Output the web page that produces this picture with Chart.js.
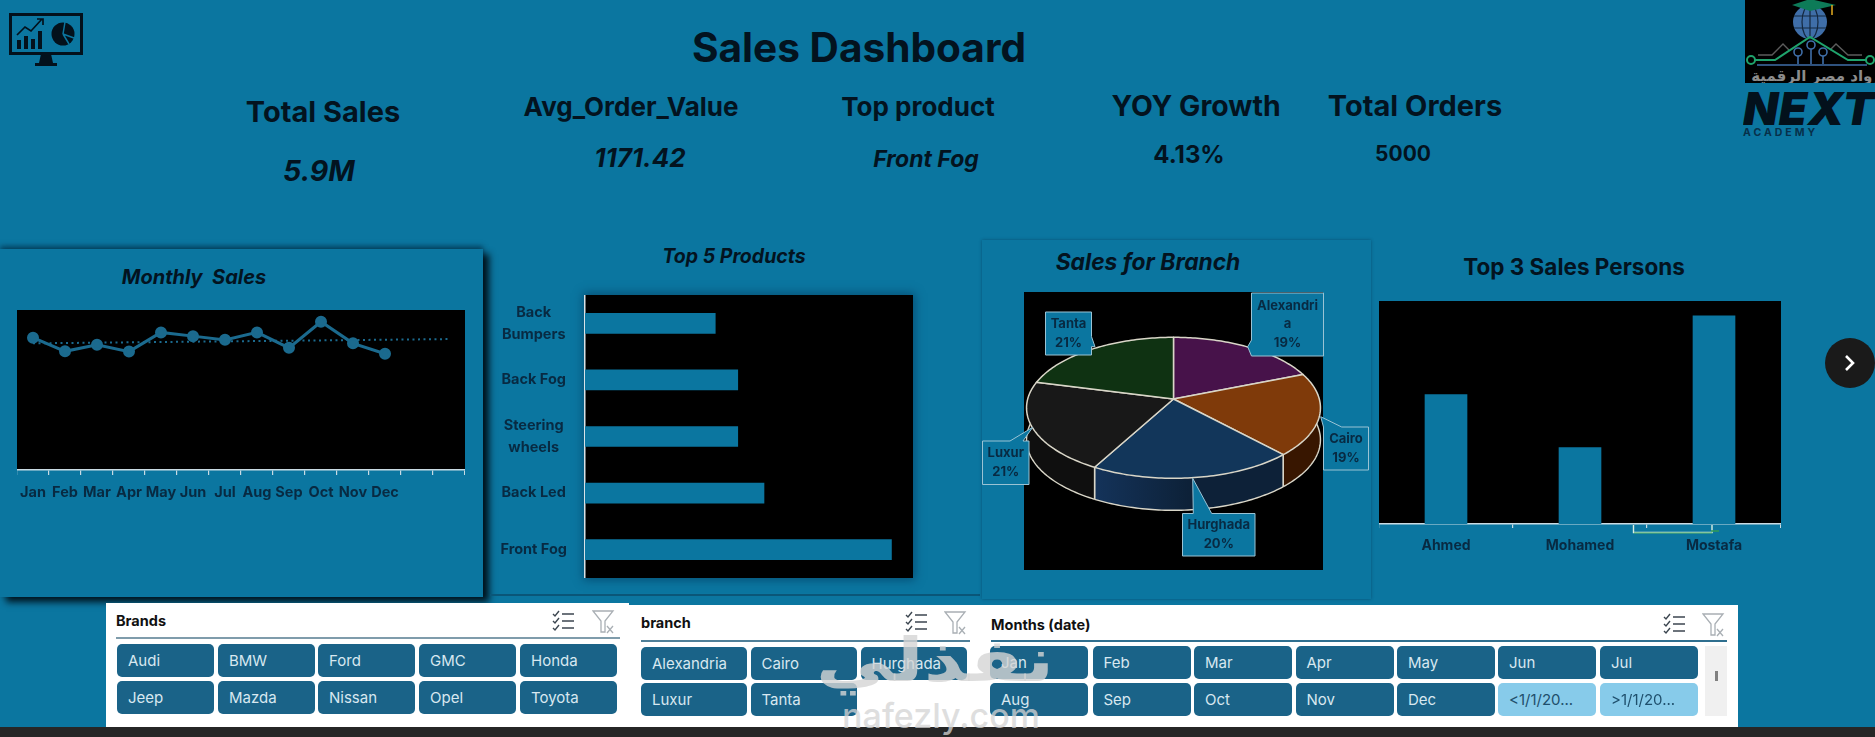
<!DOCTYPE html>
<html><head><meta charset="utf-8">
<script src="https://cdn.jsdelivr.net/npm/chart.js@4/dist/chart.umd.min.js"></script>
<style>
html,body{margin:0;padding:0;width:1875px;height:737px;overflow:hidden;background:#0b76a0;font-family:Inter,Roboto,sans-serif;color:#03131f}
.abs,canvas{position:absolute}
.t{position:absolute;white-space:nowrap;transform:translate(-50%,-50%);font-weight:700;line-height:1}
.panel{position:absolute;background:#0b76a0}
.slicer{position:absolute;background:#fff}
.slicer .hd{position:absolute;font-size:14.5px;font-weight:700;color:#111;white-space:nowrap;line-height:1;transform:translateY(-50%)}
.slicer .rule{position:absolute;height:2px}
.btn{position:absolute;background:#1a6388;color:#d8e8f0;border-radius:5px;font-size:15px;line-height:33px;box-sizing:border-box;padding-left:11px;white-space:nowrap;overflow:hidden}
.btn.off{background:#87cbea;color:#1f4f6c}
#mark1{position:absolute;left:935px;top:660px;transform:translate(-50%,-50%) scaleX(1.3);font:700 60px "DejaVu Sans";color:rgba(212,212,212,.8);white-space:nowrap;line-height:1}
#mark2{position:absolute;left:941px;top:716px;transform:translate(-50%,-50%);font:500 34px Inter;color:rgba(212,212,212,.75);white-space:nowrap;line-height:1}
</style></head><body>
<div class="panel" style="left:0;top:249px;width:483px;height:348px;box-shadow:6px 5px 7px #01131d,0 -3px 5px rgba(0,30,50,.55)"></div>
<div class="abs" style="left:490px;top:594px;width:490px;height:2px;background:#0a5678"></div>
<div class="abs" style="left:982px;top:240px;width:389px;height:359px;box-shadow:0 0 3px rgba(0,40,65,.45);background:#0b76a0"></div>
<div class="abs" style="left:585px;top:295px;width:328px;height:283px;box-shadow:0 0 9px 2px rgba(3,60,95,.65)"></div>
<div class="abs" style="left:1024px;top:292px;width:299px;height:278px;background:#000"></div>

<div class="t" style="left:859px;top:48px;font-size:40.6px">Sales Dashboard</div>
<div class="t" style="left:323px;top:111px;font-size:29px">Total Sales</div>
<div class="t" style="left:319px;top:171px;font-size:28.5px;font-style:italic">5.9M</div>
<div class="t" style="left:631px;top:107px;font-size:26px">Avg_Order_Value</div>
<div class="t" style="left:640px;top:158px;font-size:26px;font-style:italic">1171.42</div>
<div class="t" style="left:918px;top:107px;font-size:26px">Top product</div>
<div class="t" style="left:926px;top:159px;font-size:23px;font-style:italic">Front Fog</div>
<div class="t" style="left:1196px;top:106px;font-size:28.4px">YOY Growth</div>
<div class="t" style="left:1189px;top:155px;font-size:24px">4.13%</div>
<div class="t" style="left:1415px;top:105px;font-size:29px">Total Orders</div>
<div class="t" style="left:1403px;top:153px;font-size:21px">5000</div>
<div class="t" style="left:194px;top:277px;font-size:20px;font-style:italic">Monthly&nbsp; Sales</div>
<div class="t" style="left:734px;top:257px;font-size:19.5px;font-style:italic">Top 5 Products</div>
<div class="t" style="left:1148px;top:262px;font-size:22.8px;font-style:italic">Sales for Branch</div>
<div class="t" style="left:1574px;top:267px;font-size:22.5px">Top 3 Sales Persons</div>

<svg class="abs" style="left:9px;top:12px" width="76" height="56" viewBox="0 0 76 56">
 <rect x="1.5" y="2.5" width="71" height="39" fill="none" stroke="#03111c" stroke-width="3"/>
 <path d="M32 42h10l2 9h4v3H26v-3h4z" fill="#03111c"/>
 <g fill="#03111c"><rect x="8" y="28" width="4" height="9"/><rect x="15" y="24" width="4" height="13"/><rect x="22" y="27" width="4" height="10"/><rect x="29" y="19" width="4" height="18"/></g>
 <path d="M8 23l8-8 6 4 11-12M28 7h6v6" fill="none" stroke="#03111c" stroke-width="1.7"/>
 <circle cx="54" cy="22" r="11.5" fill="#03111c"/>
 <path d="M54 22l2-12M54 22l11 4M54 22l6 10" stroke="#0b76a0" stroke-width="1.5"/>
</svg>

<svg class="abs" style="left:1745px;top:0" width="130" height="83" viewBox="0 0 130 83">
 <rect width="130" height="83" fill="#000"/>
 <circle cx="65" cy="22" r="17" fill="#3f6ea8"/>
 <g stroke="#14283f" stroke-width="1.2" fill="none"><ellipse cx="65" cy="22" rx="8" ry="17"/><path d="M65 5v34M49 16h32M49 28h32"/></g>
 <path d="M47 5L65 -1L91 5L65 11z" fill="#0d7b58"/><path d="M87 5v10" stroke="#d8a21f" stroke-width="1.6"/>
 <path d="M13 55h14l11-11 6 6M117 55h-14l-12-11-6 6" fill="none" stroke="#5c5c5c" stroke-width="1.4"/>
 <path d="M10 60h20l35-23 38 23h18" fill="none" stroke="#1fa36c" stroke-width="2"/>
 <circle cx="6" cy="60" r="4" fill="none" stroke="#1fa36c" stroke-width="2"/><circle cx="125" cy="60" r="4" fill="none" stroke="#1fa36c" stroke-width="2"/>
 <path d="M12 65h110" stroke="#3f6ea8" stroke-width="1.5"/>
 <g fill="none" stroke="#3f6ea8" stroke-width="1.6"><circle cx="53" cy="52" r="4"/><circle cx="66" cy="45" r="4"/><circle cx="78" cy="52" r="4"/><path d="M53 56v8M66 49v15M78 56v8"/></g>
 <text x="136" y="81" text-anchor="end" font-family="DejaVu Sans" font-weight="700" font-size="15" fill="#8c8c8c">رواد مصر الرقمية</text>
</svg>
<div class="abs" style="left:1743px;top:86px;width:132px;overflow:hidden;font:italic 900 46px/44px Inter;letter-spacing:.4px;color:#03111c">NEXT</div>
<div class="abs" style="left:1743px;top:128px;font:700 10.5px/10px Inter;letter-spacing:3px;color:#07304a">ACADEMY</div>

<canvas id="lineChart" width="448" height="200" style="left:17px;top:310px"></canvas>
<canvas id="barChart" width="423" height="283" style="left:490px;top:295px"></canvas>
<canvas id="pieChart" width="400" height="290" style="left:975px;top:285px"></canvas>
<canvas id="colChart" width="402" height="255" style="left:1379px;top:301px"></canvas>

<svg class="abs" style="left:1630px;top:524px" width="90" height="12">
 <path d="M3.5 1v7.5H82V1" fill="none" stroke="#d8efe2" stroke-width="1.4"/><path d="M4 9h78" stroke="#2f9a5a" stroke-width="1"/><path d="M81 7h8" stroke="#2f9a5a" stroke-width="1.6"/>
</svg>

<svg class="abs" style="left:1825px;top:338px" width="50" height="50"><circle cx="25" cy="25" r="25" fill="#1a1a1a"/><path d="M21 18l7 7-7 7" fill="none" stroke="#fff" stroke-width="2.6"/></svg>

<div class="abs" style="left:0;top:727px;width:1875px;height:10px;background:#262626"></div>
<div id="slicers"></div>
<div id="mark1">نفذلي</div>
<div id="mark2">nafezly.com</div>

<script>
// ----- data -----
const monthLabels = ['Jan','Feb','Mar','Apr','May','Jun','Jul','Aug','Sep','Oct','Nov','Dec','',''];
const monthlySales = [496000,445000,470000,444000,516000,502000,488000,516000,458000,556000,475000,436000,null,null];
const monthlyTrend = [475000,null,null,null,null,null,null,null,null,null,null,null,null,491000];
const productLabels = [['Back','Bumpers'],'Back Fog',['Steering','wheels'],'Back Led','Front Fog'];
const productValues = [139,163,163,191,327];
const branchLabels = ['Alexandria','Cairo','Hurghada','Luxur','Tanta'];
const branchShares = [19,19,20,21,21];
const personLabels = ['Ahmed','Mohamed','Mostafa'];
const personValues = [870000,514000,1400000];
const brandButtons = ['Audi','BMW','Ford','GMC','Honda','Jeep','Mazda','Nissan','Opel','Toyota'];
const branchButtons = ['Alexandria','Cairo','Hurghada','Luxur','Tanta'];
const monthButtons = ['Jan','Feb','Mar','Apr','May','Jun','Jul','Aug','Sep','Oct','Nov','Dec','<1/1/20...','>1/1/20...'];

// ----- styling -----
const BAR='#0b76a0', LINE='#1b6a8e', INK='#082a42', AXIS='#c9dbe3';
const sliceTop=['#47124a','#7f3a0a','#12365a','#181818','#0f3212'];
const sliceWall=['#2a0a2c','#381600','#0d2138','#0f0f0f','#081c0a'];
const tiltView={k:.125,bx:145.8,ay:69.4,depth:32,edge:'#d9d6c8'};
const calloutBoxes=[
 {x0:1251.5,y0:293,x1:1323.5,y1:356,left:[[1251.5,356],[1247.7,346.7],[1251.5,340]]},
 {x0:1323.5,y0:427,x1:1368.5,y1:470,top:[[1323.5,427],[1320.7,416.7],[1341.7,427]]},
 {x0:1182.5,y0:513.5,x1:1255,y1:556,top:[[1193.3,513.5],[1192.7,478.3],[1211.7,513.5]]},
 {x0:982.5,y0:441,x1:1029,y1:484.5,top:[[1010,441],[1032.7,427.3],[1023,441]]},
 {x0:1045.5,y0:312,x1:1091.5,y1:355,right:[[1091.5,336.7],[1095,346.7],[1091.5,346.7]]}
];
const PIE_ORIGIN={x:975,y:285};

Chart.defaults.animation=false;
Chart.defaults.devicePixelRatio=1;
Chart.defaults.responsive=false;
Chart.defaults.plugins.legend.display=false;
Chart.defaults.plugins.tooltip.enabled=false;
Chart.defaults.font.family='Inter, Roboto, sans-serif';

const plotFill={id:'plotFill',beforeDraw(c){const a=c.chartArea,x=c.ctx;x.save();x.fillStyle='#000';x.fillRect(a.left,a.top,a.width,a.height);x.restore();}};
const noPad=s=>{s.paddingLeft=s.paddingRight=s.paddingTop=s.paddingBottom=0;};
const baseAxis=(extra)=>Object.assign({
  border:{color:AXIS,width:1.5},
  grid:{display:true,drawOnChartArea:false,color:AXIS,lineWidth:1.2,tickLength:5,offset:true},
  ticks:{color:INK,font:{size:14.5,weight:'700'},autoSkip:false,maxRotation:0,minRotation:0,padding:9}
},extra);

new Chart('lineChart',{type:'line',plugins:[plotFill],
 data:{labels:monthLabels,datasets:[
  {data:monthlyTrend,borderColor:LINE,borderWidth:2,borderDash:[2,3.5],pointRadius:0,spanGaps:true,order:2},
  {data:monthlySales,borderColor:LINE,backgroundColor:LINE,borderWidth:3,pointRadius:4.5,tension:0,order:1}]},
 options:{layout:{padding:0,autoPadding:false},scales:{
  x:baseAxis({offset:true,afterFit(s){s.height=40;noPad(s)}}),
  y:{display:false,min:0,max:600000}}}});

new Chart('barChart',{type:'bar',plugins:[plotFill],
 data:{labels:productLabels,datasets:[{data:productValues,backgroundColor:BAR,barThickness:20}]},
 options:{indexAxis:'y',scales:{
  x:{display:false,min:0,max:350},
  y:{afterFit(s){s.width=95;noPad(s)},border:{color:'#d7e3e8',width:1.5},grid:{display:false},
     ticks:{color:INK,crossAlign:'center',padding:10,font:{size:14.5,weight:'700',lineHeight:1.5},autoSkip:false}}}}});

new Chart('colChart',{type:'bar',plugins:[plotFill],
 data:{labels:personLabels,datasets:[{data:personValues,backgroundColor:BAR,barThickness:42}]},
 options:{scales:{
  x:baseAxis({afterFit(s){s.height=32;noPad(s)},grid:{display:true,drawOnChartArea:false,color:AXIS,lineWidth:1.2,tickLength:4},ticks:{color:INK,font:{size:14,weight:'700'},padding:9}}),
  y:{display:false,min:0,max:1500000}}}});

// Arcs keep the library's angles; the plugin projects them as a tilted disc with a rim.
const tiltedPie={id:'tiltedPie',
 beforeDatasetDraw(c){
  const x=c.ctx,V=tiltView,arcs=c.getDatasetMeta(0).data;
  const pt=(el,a,d=0)=>{const u=Math.cos(a),v=Math.sin(a),w=1-V.k*v;return [el.x+V.bx*u/w,el.y+V.ay*v/w+d];};
  const rim=(el,d,rev,move)=>{const n=64;for(let i=0;i<=n;i++){const t=rev?n-i:i;const a=el.startAngle+(el.endAngle-el.startAngle)*t/n;const p=pt(el,a,d);(i===0&&move)?x.moveTo(p[0],p[1]):x.lineTo(p[0],p[1]);}};
  x.save();x.lineJoin='round';
  arcs.forEach((el,i)=>{
    x.beginPath();rim(el,0,false,true);rim(el,V.depth,true,false);x.closePath();
    const pa=pt(el,el.startAngle),pb=pt(el,el.endAngle);
    const g=x.createLinearGradient(Math.min(pa[0],pb[0]),0,Math.max(pa[0],pb[0]),0);
    g.addColorStop(0,i===2?'#14335a':sliceWall[i]);g.addColorStop(.5,sliceWall[i]);
    g.addColorStop(1,sliceWall[i]);
    x.fillStyle=g;x.fill();
  });
  x.strokeStyle=V.edge;x.lineWidth=1.4;
  arcs.forEach(el=>{
    x.beginPath();rim(el,V.depth,false,true);x.stroke();
    [el.startAngle,el.endAngle].forEach(a=>{if(Math.sin(a)>.2){const p=pt(el,a),q=pt(el,a,V.depth);x.beginPath();x.moveTo(p[0],p[1]);x.lineTo(q[0],q[1]);x.stroke();}});
  });
  arcs.forEach((el,i)=>{
    x.beginPath();x.moveTo(el.x,el.y);rim(el,0,false,false);x.closePath();
    x.fillStyle=sliceTop[i];x.fill();x.lineWidth=1.5;x.stroke();
  });
  x.restore();
  return false;
 },
 afterDatasetsDraw(c){
  const x=c.ctx,total=branchShares.reduce((a,b)=>a+b,0),O=PIE_ORIGIN;
  x.save();x.translate(-O.x,-O.y);
  calloutBoxes.forEach((b,i)=>{
    x.beginPath();x.moveTo(b.x0,b.y0);
    (b.top||[]).forEach(p=>x.lineTo(p[0],p[1]));x.lineTo(b.x1,b.y0);
    (b.right||[]).forEach(p=>x.lineTo(p[0],p[1]));x.lineTo(b.x1,b.y1);x.lineTo(b.x0,b.y1);
    (b.left||[]).forEach(p=>x.lineTo(p[0],p[1]));x.closePath();
    x.fillStyle=BAR;x.fill();x.strokeStyle='#9ac3d4';x.lineWidth=1;x.stroke();
    x.fillStyle=INK;x.font='700 13px Inter';x.textAlign='center';x.textBaseline='middle';
    const lines=[];let cur='';
    for(const ch of branchLabels[i]){if(x.measureText(cur+ch).width>b.x1-b.x0-6){lines.push(cur);cur=ch;}else cur+=ch;}
    lines.push(cur);lines.push(Math.round(branchShares[i]/total*100)+'%');
    const mid=(b.x0+b.x1)/2,cy=(b.y0+b.y1)/2,lh=18.7;
    lines.forEach((l,j)=>x.fillText(l,mid,cy+(j-(lines.length-1)/2)*lh));
  });
  x.restore();
 }};
new Chart('pieChart',{type:'pie',plugins:[tiltedPie],
 data:{labels:branchLabels,datasets:[{data:branchShares,backgroundColor:sliceTop,borderWidth:0}]},
 options:{layout:{padding:{right:3,bottom:62,left:0,top:0}}}});

// ----- slicers -----
const CHECK='<svg class="abs" style="left:LEFTpx;top:TOPpx" width="23" height="23" viewBox="0 0 23 23" fill="none" stroke="#3c4650" stroke-width="1.4"><path d="M1 4l2 2 4-5M1 11l2 2 4-5M1 18l2 2 4-5M10 4h12M10 11h12M10 18h12"/></svg>';
const FUNNEL='<svg class="abs" style="left:LEFTpx;top:TOPpx" width="23" height="24" viewBox="0 0 23 24" fill="none" stroke="#a9afb4" stroke-width="1.3"><path d="M1 1h20L13 11v11H9V11zM15 16l6 7M21 16l-6 7"/></svg>';
function slicer(s){
 const d=document.createElement('div');d.className='slicer';
 d.style.cssText=`left:${s.x}px;top:${s.y}px;width:${s.w}px;height:${s.h}px`;
 let h=`<div class="hd" style="left:${s.hx-s.x}px;top:${s.hy-s.y}px">${s.title}</div>`;
 h+=`<div class="rule" style="left:${s.hx-s.x}px;top:${s.ry-s.y}px;width:${s.rw}px;background:${s.rc}"></div>`;
 h+=CHECK.replace('LEFT',s.cx-s.x).replace('TOP',s.iy-s.y)+FUNNEL.replace('LEFT',s.fx-s.x).replace('TOP',s.iy-s.y);
 s.items.forEach((t,i)=>{const c=i%s.cols,r=Math.floor(i/s.cols);
  const safe=t.replace('<','&lt;').replace('>','&gt;');
  h+=`<div class="btn${t[0]==='<'||t[0]==='>'?' off':''}" style="left:${s.colX[c]-s.x}px;top:${s.rowY[r]-s.y}px;width:${s.colW}px;height:${s.btnH}px">${safe}</div>`;});
 if(s.extra)h+=s.extra;
 d.innerHTML=h;document.getElementById('slicers').appendChild(d);
}
slicer({x:106,y:603,w:523,h:124,title:'Brands',hx:116,hy:621,ry:637,rw:504,rc:'#7f9cab',cx:552,fx:592,iy:610,items:brandButtons,cols:5,colX:[117,218,318,419,520],rowY:[644,681],colW:97,btnH:33});
slicer({x:629,y:605,w:352,h:122,title:'branch',hx:641,hy:623,ry:640,rw:329,rc:'#4f7f98',cx:905,fx:944,iy:611,items:branchButtons,cols:3,colX:[641,750.5,860.5],rowY:[647,683],colW:106,btnH:33});
slicer({x:981,y:605,w:757,h:122,title:'Months (date)',hx:991,hy:625,ry:640,rw:736,rc:'#2f6f8f',cx:1663,fx:1702,iy:613,items:monthButtons,cols:7,colX:[990,1092.5,1194,1295.5,1397,1498,1600],rowY:[646,683],colW:98,btnH:33,
 extra:'<div class="abs" style="left:724px;top:41px;width:22px;height:70px;background:#f0f0f0"></div><div class="abs" style="left:734px;top:66px;width:3px;height:10px;background:#808080"></div>'});
</script>
</body></html>
